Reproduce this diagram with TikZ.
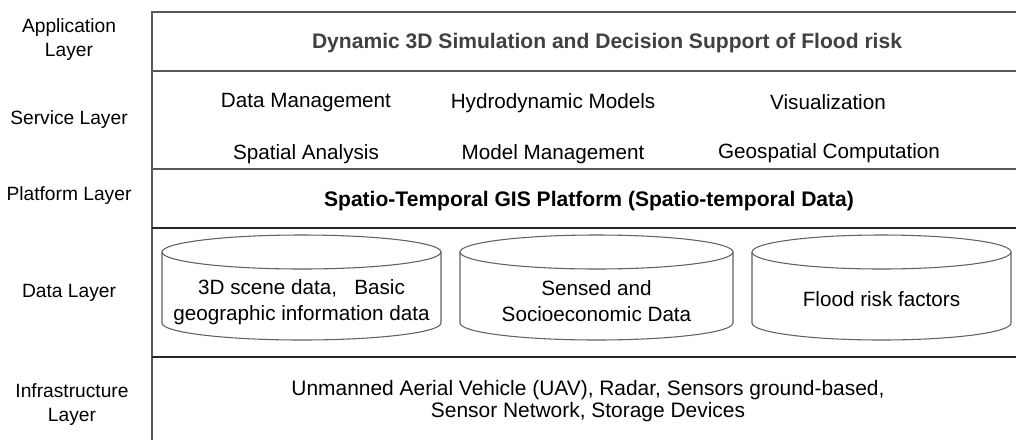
\documentclass[tikz,border=0pt]{standalone}
\usepackage{fontspec}
\setmainfont{Liberation Sans}
\begin{document}
\begin{tikzpicture}[x=0.75pt,y=-0.75pt,
  layerlbl/.style={font=\fontsize{14.4}{18}\selectfont,align=center,text=black},
  item/.style={font=\fontsize{15.5}{18.5}\selectfont,text=black},
  boldtxt/.style={font=\fontsize{15.8}{18}\selectfont\bfseries},
  cyltxt/.style={font=\fontsize{15.5}{20}\selectfont,align=center,text=black},
  grayline/.style={draw=black!65,line width=0.9pt},
  darkline/.style={draw=black!85,line width=1.1pt},
  cylline/.style={draw=black!62,line width=0.8pt,fill=white}]
\useasboundingbox (0,0) rectangle (1016,440);
% layer frame
\draw[grayline] (1016,12) -- (152,12) -- (152,440);
\draw[grayline] (152,71) -- (1016,71);
\draw[grayline] (152,169) -- (1016,169);
\draw[darkline] (152,228) -- (1016,228);
\draw[darkline] (152,357) -- (1016,357);
% layer labels
\node[layerlbl] (lapp) at (69,40) {Application\\Layer};
\node[layerlbl] (lser) at (69,120) {Service Layer};
\node[layerlbl] (lpla) at (69,196) {Platform Layer};
\node[layerlbl] (ldat) at (69,293) {Data Layer};
\node[layerlbl] (linf) at (72,405) {Infrastructure\\Layer};
% application
\node[boldtxt,text=black!75] (app) at (607,43) {Dynamic 3D Simulation and Decision Support of Flood risk};
% service
\node[item] (s1) at (306,103) {Data Management};
\node[item] (s2) at (553,103) {Hydrodynamic Models};
\node[item] (s3) at (828,102) {Visualization};
\node[item] (s4) at (306,154) {Spatial Analysis};
\node[item] (s5) at (553,154) {Model Management};
\node[item] (s6) at (829,153) {Geospatial Computation};
% platform
\node[boldtxt,text=black] (pla) at (589,201) {Spatio-Temporal GIS Platform (Spatio-temporal Data)};
% data cylinders
\foreach \cx/\rx in {301.5/139.5, 596.5/136.5, 881.5/129.5}{
  \draw[cylline] (\cx-\rx,252) -- (\cx-\rx,323) arc[start angle=180,end angle=0,x radius=\rx,y radius=17] -- (\cx+\rx,252);
  \draw[cylline] (\cx,252) ellipse[x radius=\rx,y radius=17];
}
\node[cyltxt] (d1) at (301.5,302) {3D scene data,\ \ \ Basic\\geographic information data};
\node[cyltxt] (d2) at (596.5,301) {Sensed and\\Socioeconomic Data};
\node[cyltxt] (d3) at (881.5,299) {Flood risk factors};
% infrastructure
\node[cyltxt,font=\fontsize{15.7}{17}\selectfont] (inf) at (588,401) {Unmanned Aerial Vehicle (UAV), Radar, Sensors ground-based,\\Sensor Network, Storage Devices};
\end{tikzpicture}
\end{document}
